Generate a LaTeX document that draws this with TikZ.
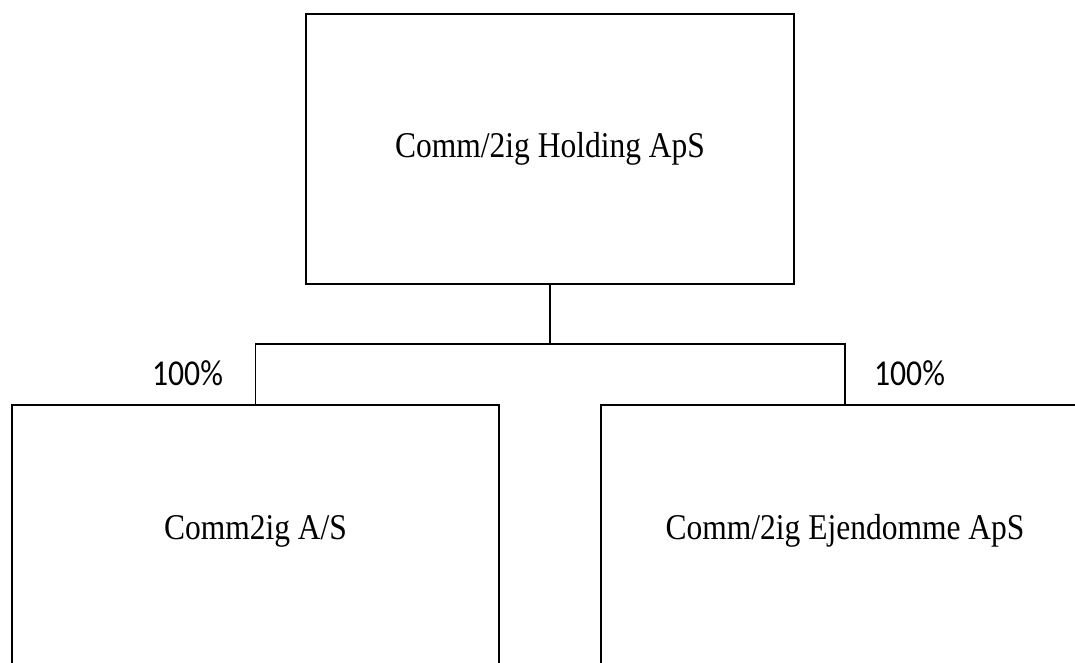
\documentclass[tikz,border=0pt]{standalone}
\usepackage{fontspec}
\usepackage{graphicx}
\setmainfont{Liberation Serif}
\newfontfamily\pctfont{Carlito}
\newcommand{\tallserif}[1]{\scalebox{1}[1.15]{\fontsize{31.5}{38}\selectfont #1}}
\newcommand{\tallsans}[1]{\scalebox{1}[1.15]{\fontsize{31.7}{38}\selectfont\pctfont #1}}
\begin{document}
\begin{tikzpicture}[x=1pt,y=-1pt,
  orgbox/.style={draw=black, line width=1.6pt, minimum height=270pt, inner sep=0pt, align=center},
  conn/.style={draw=black, line width=1.6pt},
  pct/.style={inner sep=0pt}]
\useasboundingbox (0,0) rectangle (1075,662);
\clip (0,0) rectangle (1075,662);
\fill[white] (0,0) rectangle (1075,662);
\node[orgbox, minimum width=488pt] (top) at (550,149) {\tallserif{Comm/2ig Holding ApS}};
\node[orgbox, minimum width=487pt] (left) at (255.5,540) {};
\node[orgbox, minimum width=488pt] (right) at (845,540) {};
\node[inner sep=0pt] (lefttext) at (255.5,531) {\tallserif{Comm2ig A/S}};
\node[inner sep=0pt] (righttext) at (845,531) {\tallserif{Comm/2ig Ejendomme ApS}};
\coordinate (bar) at (550,344);
\draw[conn] (top.south) -- (bar);
\draw[conn] (left.north) |- (bar) -| (right.north);
\node[pct] (pl) at (187.5,373) {\tallsans{100\%}};
\node[pct] (pr) at (909.5,373) {\tallsans{100\%}};
\end{tikzpicture}
\end{document}
